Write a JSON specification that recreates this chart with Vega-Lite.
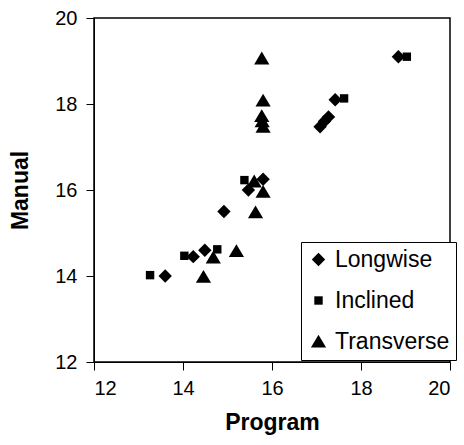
{
  "$schema": "https://vega.github.io/schema/vega-lite/v6.json",
  "autosize": "none",
  "width": 356,
  "height": 344,
  "padding": {"left": 94, "top": 18, "right": 14, "bottom": 83},
  "background": "white",
  "config": {
    "font": "Liberation Sans",
    "view": {"stroke": "black", "strokeWidth": 1.5},
    "axis": {
      "grid": false,
      "domainColor": "black",
      "tickColor": "black",
      "labelColor": "black",
      "titleColor": "black",
      "labelFontSize": 20,
      "titleFontSize": 23,
      "titleFontWeight": "bold",
      "tickSize": 8,
      "labelFont": "Liberation Sans",
      "titleFont": "Liberation Sans"
    },
    "legend": {
      "orient": "none",
      "legendX": 207,
      "legendY": 224,
      "strokeColor": "black",
      "fillColor": "white",
      "padding": 6,
      "labelFontSize": 23,
      "labelColor": "black",
      "labelFont": "Liberation Sans",
      "rowPadding": 17,
      "labelOffset": 5,
      "symbolSize": 400,
      "symbolFillColor": "black",
      "symbolStrokeColor": "black",
      "symbolStrokeWidth": 0,
      "symbolOpacity": 1
    }
  },
  "data": {
    "values": [
      {"series": "Longwise", "program": 13.6, "manual": 14.0},
      {"series": "Longwise", "program": 14.23, "manual": 14.45},
      {"series": "Longwise", "program": 14.49, "manual": 14.6},
      {"series": "Longwise", "program": 14.92, "manual": 15.5},
      {"series": "Longwise", "program": 15.47, "manual": 16.0},
      {"series": "Longwise", "program": 15.8, "manual": 16.25},
      {"series": "Longwise", "program": 17.08, "manual": 17.47},
      {"series": "Longwise", "program": 17.18, "manual": 17.6},
      {"series": "Longwise", "program": 17.27, "manual": 17.7},
      {"series": "Longwise", "program": 17.42, "manual": 18.1},
      {"series": "Longwise", "program": 18.84, "manual": 19.1},
      {"series": "Inclined", "program": 13.26, "manual": 14.02},
      {"series": "Inclined", "program": 14.03, "manual": 14.47},
      {"series": "Inclined", "program": 14.77, "manual": 14.62},
      {"series": "Inclined", "program": 15.38, "manual": 16.23},
      {"series": "Inclined", "program": 17.62, "manual": 18.13},
      {"series": "Inclined", "program": 19.03, "manual": 19.1},
      {"series": "Transverse", "program": 14.46, "manual": 13.98},
      {"series": "Transverse", "program": 14.68, "manual": 14.43},
      {"series": "Transverse", "program": 15.2, "manual": 14.58},
      {"series": "Transverse", "program": 15.63, "manual": 15.48},
      {"series": "Transverse", "program": 15.6, "manual": 16.2},
      {"series": "Transverse", "program": 15.8, "manual": 15.96},
      {"series": "Transverse", "program": 15.8, "manual": 17.47},
      {"series": "Transverse", "program": 15.78, "manual": 17.6},
      {"series": "Transverse", "program": 15.77, "manual": 17.72},
      {"series": "Transverse", "program": 15.8, "manual": 18.08},
      {"series": "Transverse", "program": 15.77, "manual": 19.06}
    ]
  },
  "mark": {"type": "point", "filled": true, "opacity": 1, "color": "black", "size": 400, "strokeWidth": 0},
  "encoding": {
    "x": {
      "field": "program", "type": "quantitative", "title": "Program",
      "scale": {"domain": [12, 20], "nice": false, "zero": false},
      "axis": {"values": [12, 14, 16, 18, 20], "labelPadding": 8, "titlePadding": 13}
    },
    "y": {
      "field": "manual", "type": "quantitative", "title": "Manual",
      "scale": {"domain": [12, 20], "nice": false, "zero": false},
      "axis": {"values": [12, 14, 16, 18, 20], "labelPadding": 9, "titlePadding": 22}
    },
    "shape": {
      "field": "series", "type": "nominal", "title": null,
      "scale": {
        "domain": ["Longwise", "Inclined", "Transverse"],
        "range": [
          "M0,-0.67L0.67,0L0,0.67L-0.67,0Z",
          "M-0.42,-0.42L0.42,-0.42L0.42,0.42L-0.42,0.42Z",
          "M0,-0.68L0.76,0.6L-0.76,0.6Z"
        ]
      }
    }
  }
}
